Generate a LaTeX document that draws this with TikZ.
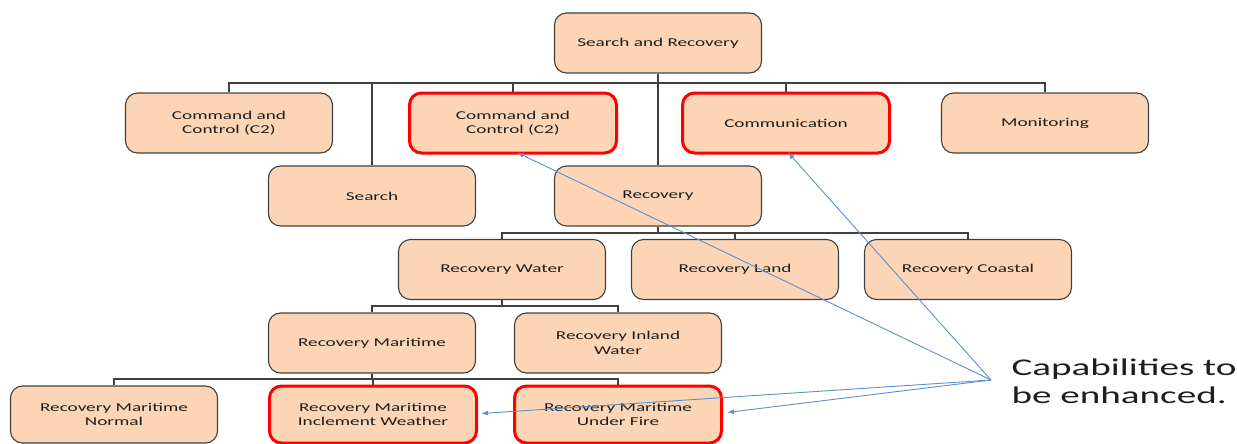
\documentclass[tikz,border=0pt]{standalone}
\usepackage{fontspec}
\usetikzlibrary{arrows.meta,calc}
\newfontfamily\boxfont[FakeStretch=1.6]{Carlito}
\newfontfamily\capfont[FakeStretch=1.63]{Carlito}
\definecolor{boxfill}{HTML}{FBD5B5}
\definecolor{boxline}{HTML}{404040}
\definecolor{txt}{HTML}{1E1E1E}
\definecolor{hilite}{HTML}{FF0000}
\definecolor{pointer}{HTML}{5C8FD0}
\tikzset{
  unit/.style={rectangle, rounded corners=12pt, draw=boxline, line width=1.1pt,
    fill=boxfill, minimum width=207pt, minimum height=60pt, inner sep=0pt,
    align=center, text=txt, font=\boxfont\fontsize{12}{14.4}\selectfont},
  lowunit/.style={unit, minimum height=57pt},
  enhance/.style={draw=hilite, line width=3pt},
  link/.style={draw=boxline, line width=1.1pt},
  pointerline/.style={draw=pointer, line width=0.9pt, -{Latex[length=7pt,width=5pt]}}
}
\begin{document}
\begin{tikzpicture}[x=1pt,y=-1pt]
\useasboundingbox (0,0) rectangle (1237,444);
\clip (0,0) rectangle (1237,444);

% tree of capabilities
\node[unit] (root) at (658,43) {Search and Recovery};

\node[unit] (c2a) at (229,123) {Command and\\Control (C2)};
\node[unit,enhance] (c2b) at (513,123) {Command and\\Control (C2)};
\node[unit,enhance] (comm) at (786,123) {Communication};
\node[unit] (mon) at (1045,123) {Monitoring};

\node[unit] (search) at (372,196) {Search};
\node[unit] (rec) at (658,196) {Recovery};

\node[unit] (rwater) at (502,269.5) {Recovery Water};
\node[unit] (rland) at (735,269.5) {Recovery Land};
\node[unit] (rcoast) at (968,269.5) {Recovery Coastal};

\node[unit] (rmar) at (372,343) {Recovery Maritime};
\node[unit] (rinland) at (618,343) {Recovery Inland\\Water};

\node[lowunit] (rnorm) at (114,414.5) {Recovery Maritime\\Normal};
\node[lowunit,enhance] (rincl) at (373,414.5) {Recovery Maritime\\Inclement Weather};
\node[lowunit,enhance] (rfire) at (618,414.5) {Recovery Maritime\\Under Fire};

% branch junctions
\coordinate (j1) at (658,83);
\coordinate (j2) at (658,233);
\coordinate (j3) at (502,306);
\coordinate (j4) at (372,379);

\draw[link] (root.south) -- (j1);
\draw[link] (j1) -| (c2a.north);
\draw[link] (j1) -| (c2b.north);
\draw[link] (j1) -| (comm.north);
\draw[link] (j1) -| (mon.north);
\draw[link] (j1) -| (search.north);
\draw[link] (j1) -- (rec.north);

\draw[link] (rec.south) -- (j2);
\draw[link] (j2) -| (rwater.north);
\draw[link] (j2) -| (rland.north);
\draw[link] (j2) -| (rcoast.north);

\draw[link] (rwater.south) -- (j3);
\draw[link] (j3) -| (rmar.north);
\draw[link] (j3) -| (rinland.north);

\draw[link] (rmar.south) -- (j4);
\draw[link] (j4) -| (rnorm.north);
\draw[link] (j4) -| (rincl.north);
\draw[link] (j4) -| (rfire.north);

% callout
\node[anchor=west, align=left, text=txt, font=\capfont\fontsize{24}{28}\selectfont]
  (note) at (1008,381) {Capabilities to\\be enhanced.};
\coordinate (src) at (991,380);

\draw[pointerline] (src) -- ([xshift=4pt,yshift=2pt]c2b.south);
\draw[pointerline] (src) -- ([xshift=2pt,yshift=2pt]comm.south);
\draw[pointerline] (src) -- ([xshift=3pt,yshift=1pt]rincl.east);
\draw[pointerline] (src) -- ([xshift=4pt,yshift=2pt]rfire.east);
\end{tikzpicture}
\end{document}
